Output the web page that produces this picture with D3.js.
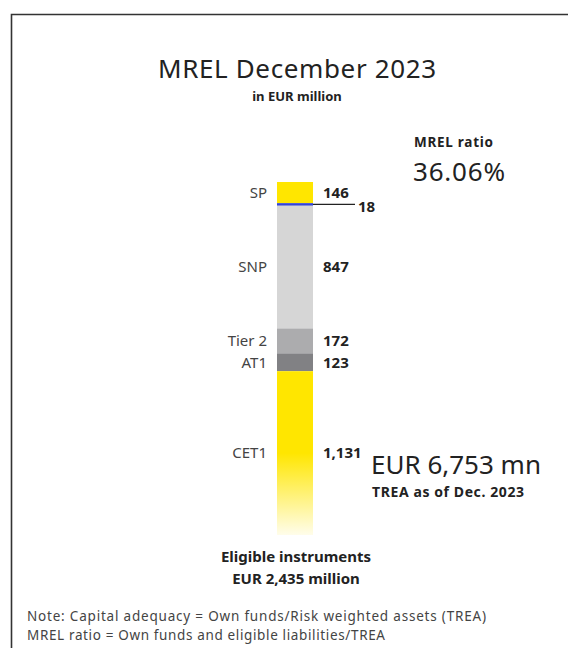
<!DOCTYPE html>
<html>
<head>
<meta charset="utf-8">
<script src="https://cdn.jsdelivr.net/npm/d3@7"></script>
<style>
  body { margin: 0; background: #fff; }
  text { font-family: "Noto Sans", "Open Sans", sans-serif; fill: #222; }
</style>
</head>
<body>
<script>
// data, top of bar first
const categories = ["SP", "Blue", "SNP", "Tier 2", "AT1", "CET1"];
const shortLabels = ["SP", "", "SNP", "Tier 2", "AT1", "CET1"];
const values = [146, 18, 847, 172, 123, 1131];
const valueLabels = ["146", "18", "847", "172", "123", "1,131"];
const colors = ["#ffe600", "#3344d6", "#d6d6d6", "#acacae", "#818184", "#ffe600"];

const width = 568, height = 648;
const barX = 277, barW = 36;
const barTop = 182, barBottom = 535;

const svg = d3.select("body").append("svg")
    .attr("width", width)
    .attr("height", height);

// frame
svg.append("path")
    .attr("d", "M11.5,648 V14.5 H568")
    .attr("fill", "none")
    .attr("stroke", "#333")
    .attr("stroke-width", 1.6);

// stack, top down
let acc = 0;
const segs = values.map(function (v, i) {
    const s = { name: categories[i], short: shortLabels[i], label: valueLabels[i], color: colors[i], y0: acc, y1: acc + v };
    acc += v;
    return s;
});
const total = acc;

const y = d3.scaleLinear()
    .domain([0, total])
    .range([barTop, barBottom]);

const defs = svg.append("defs");
const grad = defs.append("linearGradient")
    .attr("id", "fade")
    .attr("x1", 0).attr("x2", 0).attr("y1", 0).attr("y2", 1);
grad.append("stop").attr("offset", "0%").attr("stop-color", "#ffe600");
grad.append("stop").attr("offset", "50%").attr("stop-color", "#ffe600");
grad.append("stop").attr("offset", "100%").attr("stop-color", "#ffe600").attr("stop-opacity", 0.08);

svg.selectAll("rect.seg")
    .data(segs)
    .enter()
    .append("rect")
    .attr("class", "seg")
    .attr("x", barX)
    .attr("width", barW)
    .attr("y", function (d) { return y(d.y0); })
    .attr("height", function (d) { return y(d.y1) - y(d.y0); })
    .attr("fill", function (d) { return d.name == "CET1" ? "url(#fade)" : d.color; });

// left labels
svg.selectAll("text.cat")
    .data(segs.filter(function (d) { return d.short != ""; }))
    .enter()
    .append("text")
    .attr("class", "cat")
    .attr("x", barX - 10)
    .attr("y", function (d) { return (y(d.y0) + y(d.y1)) / 2; })
    .attr("dy", "0.35em")
    .attr("text-anchor", "end")
    .style("font-size", "15px")
    .style("fill", "#444")
    .text(function (d) { return d.short; });

// value labels
const small = segs.filter(function (d) { return d.name == "Blue"; });
const normal = segs.filter(function (d) { return d.name != "Blue"; });

svg.selectAll("text.val")
    .data(normal)
    .enter()
    .append("text")
    .attr("class", "val")
    .attr("x", barX + barW + 10)
    .attr("y", function (d) { return (y(d.y0) + y(d.y1)) / 2; })
    .attr("dy", "0.35em")
    .style("font-size", "15px")
    .style("font-weight", "bold")
    .text(function (d) { return d.label; });

svg.selectAll("line.lead")
    .data(small)
    .enter()
    .append("line")
    .attr("class", "lead")
    .attr("x1", barX + barW)
    .attr("x2", barX + barW + 42)
    .attr("y1", function (d) { return (y(d.y0) + y(d.y1)) / 2; })
    .attr("y2", function (d) { return (y(d.y0) + y(d.y1)) / 2; })
    .attr("stroke", "#222")
    .attr("stroke-width", 1.2);

svg.selectAll("text.lead")
    .data(small)
    .enter()
    .append("text")
    .attr("class", "lead")
    .attr("x", barX + barW + 45)
    .attr("y", function (d) { return (y(d.y0) + y(d.y1)) / 2 + 2; })
    .attr("dy", "0.35em")
    .style("font-size", "15px")
    .style("font-weight", "bold")
    .text(function (d) { return d.label; });

// titles and annotations
function txt(x, yy, s, size, weight, anchor, color, len) {
    const t = svg.append("text")
        .attr("x", x).attr("y", yy)
        .attr("text-anchor", anchor || "start")
        .style("font-size", size + "px")
        .style("font-weight", weight || "normal")
        .style("fill", color || "#222")
        .text(s);
    if (len) t.attr("textLength", len).attr("lengthAdjust", "spacing");
}

txt(297, 78, "MREL December 2023", 26, 400, "middle", "#222", 278);
txt(297, 101, "in EUR million", 13, "bold", "middle");
txt(414, 147, "MREL ratio", 13.5, "bold", "start", "#222", 79);
txt(413, 181, "36.06%", 26, 400, "start", "#222", 92);
txt(371, 474, "EUR 6,753 mn", 26, 400);
txt(372, 497, "TREA as of Dec. 2023", 14, "bold", "start", "#222", 152);
txt(296, 562, "Eligible instruments", 15, "bold", "middle");
txt(296, 584, "EUR 2,435 million", 15, "bold", "middle");
txt(27, 621, "Note: Capital adequacy = Own funds/Risk weighted assets (TREA)", 13.5, "normal", "start", "#444", 459);
txt(27, 640, "MREL ratio = Own funds and eligible liabilities/TREA", 13.5, "normal", "start", "#444", 358);
</script>
</body>
</html>
